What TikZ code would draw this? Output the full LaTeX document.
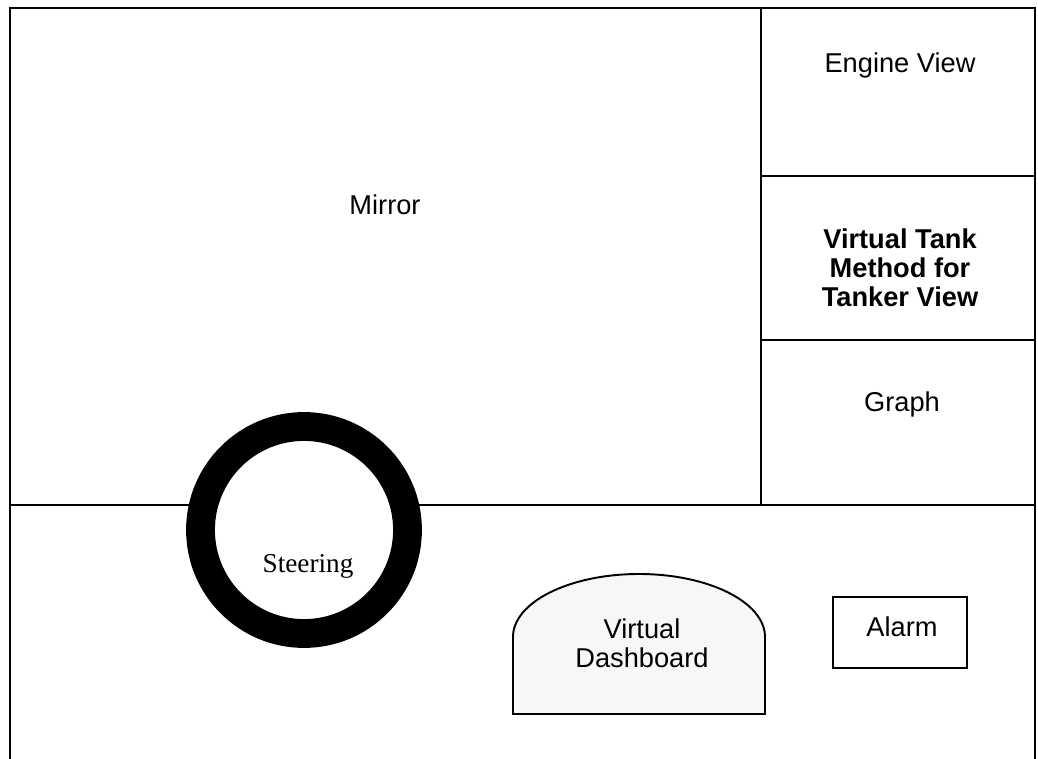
\documentclass[tikz,border=0pt]{standalone}
\usepackage{fontspec}
\setmainfont{Liberation Sans}
\newfontfamily\serifface{Liberation Serif}
\usepackage{tikz}
\tikzset{panel/.style={line width=1.1pt},
  lbl/.style={font=\fontsize{15.5}{16.6}\selectfont, align=center}}

\begin{document}
\begin{tikzpicture}[x=0.02cm,y=-0.02cm]
\useasboundingbox (0,0) rectangle (1038,759);
\draw[panel] (10,759)--(10,8)--(1035,8)--(1035,759);
\draw[panel] (761,8)--(761,505);
\draw[panel] (761,176)--(1035,176);
\draw[panel] (761,340)--(1035,340);
\draw[panel] (10,505)--(1035,505);
\filldraw[fill=white, line width=16.4pt] (304,530) circle (103.5);
\filldraw[panel, fill=black!3] (513,714)--(513,637) arc[start angle=180, end angle=360, x radius=126, y radius=63]--(765,714)--cycle;
\draw[panel] (833,597) rectangle (967,668);
\node[lbl] (mirror) at (385,205) {Mirror};
\node[lbl] (engine) at (900,65) {Engine View};
\node[lbl, font=\fontsize{15.5}{16.6}\selectfont\bfseries] (tank) at (900,268) {Virtual Tank\\Method for\\Tanker View};
\node[lbl] (graph) at (902,404) {Graph};
\node[lbl, font=\fontsize{15.5}{17}\selectfont\serifface] (steer) at (308,566) {Steering};
\node[lbl] (dash) at (642,643) {Virtual\\Dashboard};
\node[lbl] (alarm) at (902,627) {Alarm};
\end{tikzpicture}
\end{document}
